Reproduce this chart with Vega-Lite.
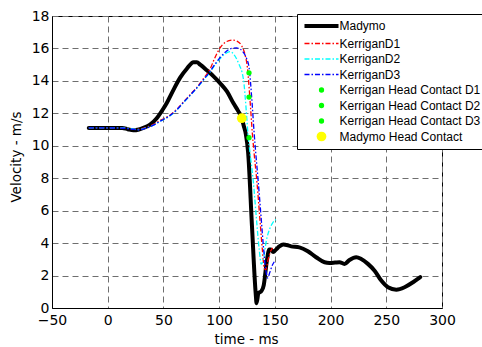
{
  "$schema": "https://vega.github.io/schema/vega-lite/v6.json",
  "width": 390,
  "height": 292,
  "autosize": {"type": "none"},
  "padding": {"left": 52, "top": 16, "right": 40, "bottom": 39},
  "background": "white",
  "config": {
    "view": {"stroke": "black", "strokeWidth": 1},
    "axis": {
      "grid": true,
      "gridDash": [6, 4],
      "gridColor": "#6e6e6e",
      "gridWidth": 1,
      "ticks": false,
      "domainColor": "black",
      "labelFont": "DejaVu Sans",
      "labelFontSize": 14,
      "labelColor": "black",
      "labelFlush": false,
      "labelOverlap": false,
      "titleFont": "DejaVu Sans",
      "titleFontSize": 13.5,
      "titleFontWeight": "normal",
      "titleColor": "black"
    }
  },
  "datasets": {
    "curves": [
      {"series": "Madymo", "t": -17, "v": 11.1},
      {"series": "Madymo", "t": 0, "v": 11.1},
      {"series": "Madymo", "t": 13, "v": 11.1},
      {"series": "Madymo", "t": 18, "v": 11.02},
      {"series": "Madymo", "t": 23, "v": 10.95},
      {"series": "Madymo", "t": 28, "v": 11.0},
      {"series": "Madymo", "t": 32, "v": 11.1},
      {"series": "Madymo", "t": 38, "v": 11.3},
      {"series": "Madymo", "t": 44, "v": 11.7},
      {"series": "Madymo", "t": 50, "v": 12.3},
      {"series": "Madymo", "t": 53, "v": 12.64},
      {"series": "Madymo", "t": 59, "v": 13.45},
      {"series": "Madymo", "t": 65, "v": 14.2},
      {"series": "Madymo", "t": 71, "v": 14.75},
      {"series": "Madymo", "t": 77, "v": 15.15},
      {"series": "Madymo", "t": 80, "v": 15.15},
      {"series": "Madymo", "t": 83, "v": 15.0},
      {"series": "Madymo", "t": 89, "v": 14.65},
      {"series": "Madymo", "t": 95, "v": 14.28},
      {"series": "Madymo", "t": 101, "v": 13.85},
      {"series": "Madymo", "t": 107, "v": 13.35},
      {"series": "Madymo", "t": 113, "v": 12.6},
      {"series": "Madymo", "t": 117, "v": 12.15},
      {"series": "Madymo", "t": 120.3, "v": 11.7},
      {"series": "Madymo", "t": 122, "v": 11.25},
      {"series": "Madymo", "t": 124, "v": 10.7},
      {"series": "Madymo", "t": 126, "v": 9.6},
      {"series": "Madymo", "t": 129.5, "v": 5.0},
      {"series": "Madymo", "t": 132.8, "v": 0.9},
      {"series": "Madymo", "t": 133.6, "v": 0.3},
      {"series": "Madymo", "t": 135.2, "v": 0.9},
      {"series": "Madymo", "t": 138, "v": 1.05},
      {"series": "Madymo", "t": 140, "v": 1.4},
      {"series": "Madymo", "t": 142.8, "v": 2.9},
      {"series": "Madymo", "t": 145, "v": 3.6},
      {"series": "Madymo", "t": 146.5, "v": 3.6},
      {"series": "Madymo", "t": 148.5, "v": 3.45},
      {"series": "Madymo", "t": 151, "v": 3.6},
      {"series": "Madymo", "t": 154, "v": 3.8},
      {"series": "Madymo", "t": 157.5, "v": 3.92},
      {"series": "Madymo", "t": 164.6, "v": 3.8},
      {"series": "Madymo", "t": 172, "v": 3.74},
      {"series": "Madymo", "t": 179.6, "v": 3.5},
      {"series": "Madymo", "t": 187, "v": 3.13},
      {"series": "Madymo", "t": 194.6, "v": 2.82},
      {"series": "Madymo", "t": 199, "v": 2.78},
      {"series": "Madymo", "t": 204, "v": 2.8},
      {"series": "Madymo", "t": 208, "v": 2.82},
      {"series": "Madymo", "t": 212.5, "v": 2.72},
      {"series": "Madymo", "t": 217, "v": 2.96},
      {"series": "Madymo", "t": 223, "v": 3.13},
      {"series": "Madymo", "t": 227.5, "v": 3.02},
      {"series": "Madymo", "t": 233.5, "v": 2.72},
      {"series": "Madymo", "t": 239.5, "v": 2.3},
      {"series": "Madymo", "t": 245.5, "v": 1.69},
      {"series": "Madymo", "t": 251.5, "v": 1.28},
      {"series": "Madymo", "t": 259, "v": 1.13},
      {"series": "Madymo", "t": 266.4, "v": 1.28},
      {"series": "Madymo", "t": 274, "v": 1.59},
      {"series": "Madymo", "t": 280.5, "v": 1.9},

      {"series": "KerriganD1", "t": -17, "v": 11.1},
      {"series": "KerriganD1", "t": 0, "v": 11.1},
      {"series": "KerriganD1", "t": 15, "v": 11.1},
      {"series": "KerriganD1", "t": 22, "v": 11.05},
      {"series": "KerriganD1", "t": 28, "v": 11.02},
      {"series": "KerriganD1", "t": 35, "v": 11.15},
      {"series": "KerriganD1", "t": 42, "v": 11.35},
      {"series": "KerriganD1", "t": 48, "v": 11.6},
      {"series": "KerriganD1", "t": 55, "v": 11.85},
      {"series": "KerriganD1", "t": 62, "v": 12.25},
      {"series": "KerriganD1", "t": 68, "v": 12.7},
      {"series": "KerriganD1", "t": 74, "v": 13.15},
      {"series": "KerriganD1", "t": 80, "v": 13.6},
      {"series": "KerriganD1", "t": 86, "v": 14.15},
      {"series": "KerriganD1", "t": 92, "v": 14.75},
      {"series": "KerriganD1", "t": 96, "v": 15.4},
      {"series": "KerriganD1", "t": 101, "v": 16.05},
      {"series": "KerriganD1", "t": 106, "v": 16.4},
      {"series": "KerriganD1", "t": 112, "v": 16.52},
      {"series": "KerriganD1", "t": 116, "v": 16.45},
      {"series": "KerriganD1", "t": 120.3, "v": 16.15},
      {"series": "KerriganD1", "t": 123.3, "v": 15.6},
      {"series": "KerriganD1", "t": 125.4, "v": 14.8},
      {"series": "KerriganD1", "t": 127.8, "v": 12.73},
      {"series": "KerriganD1", "t": 129.9, "v": 10.68},
      {"series": "KerriganD1", "t": 131.3, "v": 9.6},
      {"series": "KerriganD1", "t": 134, "v": 7.7},
      {"series": "KerriganD1", "t": 136.4, "v": 5.64},
      {"series": "KerriganD1", "t": 138.8, "v": 3.58},
      {"series": "KerriganD1", "t": 140.5, "v": 2.45},
      {"series": "KerriganD1", "t": 141.8, "v": 2.35},
      {"series": "KerriganD1", "t": 144, "v": 3.0},
      {"series": "KerriganD1", "t": 146.5, "v": 3.55},
      {"series": "KerriganD1", "t": 148, "v": 3.7},

      {"series": "KerriganD2", "t": -17, "v": 11.1},
      {"series": "KerriganD2", "t": 0, "v": 11.1},
      {"series": "KerriganD2", "t": 15, "v": 11.1},
      {"series": "KerriganD2", "t": 22, "v": 11.05},
      {"series": "KerriganD2", "t": 28, "v": 11.0},
      {"series": "KerriganD2", "t": 35, "v": 11.12},
      {"series": "KerriganD2", "t": 42, "v": 11.3},
      {"series": "KerriganD2", "t": 48, "v": 11.55},
      {"series": "KerriganD2", "t": 55, "v": 11.8},
      {"series": "KerriganD2", "t": 62, "v": 12.2},
      {"series": "KerriganD2", "t": 68, "v": 12.65},
      {"series": "KerriganD2", "t": 74, "v": 13.1},
      {"series": "KerriganD2", "t": 80, "v": 13.55},
      {"series": "KerriganD2", "t": 86, "v": 14.05},
      {"series": "KerriganD2", "t": 92, "v": 14.55},
      {"series": "KerriganD2", "t": 96, "v": 14.95},
      {"series": "KerriganD2", "t": 100, "v": 15.3},
      {"series": "KerriganD2", "t": 105, "v": 15.65},
      {"series": "KerriganD2", "t": 110, "v": 15.8},
      {"series": "KerriganD2", "t": 113, "v": 15.65},
      {"series": "KerriganD2", "t": 117.3, "v": 15.1},
      {"series": "KerriganD2", "t": 121.8, "v": 14.1},
      {"series": "KerriganD2", "t": 124.3, "v": 12.2},
      {"series": "KerriganD2", "t": 125.9, "v": 10.7},
      {"series": "KerriganD2", "t": 128, "v": 9.4},
      {"series": "KerriganD2", "t": 130.8, "v": 7.7},
      {"series": "KerriganD2", "t": 133.3, "v": 5.64},
      {"series": "KerriganD2", "t": 136, "v": 3.58},
      {"series": "KerriganD2", "t": 137.8, "v": 2.7},
      {"series": "KerriganD2", "t": 139.5, "v": 2.95},
      {"series": "KerriganD2", "t": 142.5, "v": 4.2},
      {"series": "KerriganD2", "t": 145.5, "v": 4.9},
      {"series": "KerriganD2", "t": 148.5, "v": 5.3},
      {"series": "KerriganD2", "t": 151, "v": 5.45},

      {"series": "KerriganD3", "t": -17, "v": 11.1},
      {"series": "KerriganD3", "t": 0, "v": 11.1},
      {"series": "KerriganD3", "t": 15, "v": 11.08},
      {"series": "KerriganD3", "t": 22, "v": 11.02},
      {"series": "KerriganD3", "t": 28, "v": 10.98},
      {"series": "KerriganD3", "t": 35, "v": 11.1},
      {"series": "KerriganD3", "t": 42, "v": 11.3},
      {"series": "KerriganD3", "t": 48, "v": 11.55},
      {"series": "KerriganD3", "t": 55, "v": 11.82},
      {"series": "KerriganD3", "t": 62, "v": 12.22},
      {"series": "KerriganD3", "t": 68, "v": 12.68},
      {"series": "KerriganD3", "t": 74, "v": 13.12},
      {"series": "KerriganD3", "t": 80, "v": 13.57},
      {"series": "KerriganD3", "t": 86, "v": 14.08},
      {"series": "KerriganD3", "t": 92, "v": 14.6},
      {"series": "KerriganD3", "t": 97, "v": 15.1},
      {"series": "KerriganD3", "t": 101, "v": 15.45},
      {"series": "KerriganD3", "t": 106, "v": 15.8},
      {"series": "KerriganD3", "t": 111, "v": 16.0},
      {"series": "KerriganD3", "t": 115.5, "v": 16.03},
      {"series": "KerriganD3", "t": 119, "v": 15.95},
      {"series": "KerriganD3", "t": 121.8, "v": 15.75},
      {"series": "KerriganD3", "t": 124.8, "v": 15.35},
      {"series": "KerriganD3", "t": 126.9, "v": 14.8},
      {"series": "KerriganD3", "t": 129.3, "v": 12.9},
      {"series": "KerriganD3", "t": 131.4, "v": 10.8},
      {"series": "KerriganD3", "t": 132.8, "v": 9.6},
      {"series": "KerriganD3", "t": 135.2, "v": 7.7},
      {"series": "KerriganD3", "t": 137.6, "v": 5.64},
      {"series": "KerriganD3", "t": 140, "v": 3.58},
      {"series": "KerriganD3", "t": 142, "v": 2.3},
      {"series": "KerriganD3", "t": 143.5, "v": 1.85},
      {"series": "KerriganD3", "t": 145.5, "v": 2.2},
      {"series": "KerriganD3", "t": 147.5, "v": 2.6},
      {"series": "KerriganD3", "t": 149.5, "v": 2.85}
    ],
    "contacts": [
      {"series": "Kerrigan Head Contact D1", "t": 126.8, "v": 14.5},
      {"series": "Kerrigan Head Contact D2", "t": 126.8, "v": 13.0},
      {"series": "Kerrigan Head Contact D3", "t": 126.8, "v": 10.5},
      {"series": "Madymo Head Contact", "t": 120.3, "v": 11.7}
    ]
  },
  "encoding": {
    "x": {
      "field": "t",
      "type": "quantitative",
      "scale": {"domain": [-50, 300], "nice": false, "zero": false},
      "axis": {
        "values": [-50, 0, 50, 100, 150, 200, 250, 300],
        "title": "time - ms",
        "labelPadding": 5,
        "titleX": 194,
        "titleY": 35,
        "titleAlign": "center",
        "titleBaseline": "alphabetic"
      }
    },
    "y": {
      "field": "v",
      "type": "quantitative",
      "scale": {"domain": [0, 18], "nice": false},
      "axis": {
        "values": [0, 2, 4, 6, 8, 10, 12, 14, 16, 18],
        "title": "Velocity - m/s",
        "labelPadding": 3,
        "titleX": -31.5,
        "titleY": 140.5,
        "titleAngle": -90,
        "titleAlign": "center",
        "titleBaseline": "alphabetic"
      }
    }
  },
  "layer": [
    {
      "data": {"name": "curves"},
      "transform": [{"filter": "datum.series === 'Madymo'"}],
      "mark": {"type": "line", "strokeWidth": 4, "interpolate": "monotone", "strokeJoin": "round", "strokeCap": "round"},
      "encoding": {
        "color": {
          "field": "series",
          "type": "nominal",
          "scale": {
            "domain": ["Madymo", "KerriganD1", "KerriganD2", "KerriganD3", "Kerrigan Head Contact D1", "Kerrigan Head Contact D2", "Kerrigan Head Contact D3", "Madymo Head Contact"],
            "range": ["#000000", "#ff0000", "#00ffff", "#0000ff", "#00ff00", "#00ff00", "#00ff00", "#ffff00"]
          },
          "legend": {
            "orient": "none",
            "legendX": 245,
            "legendY": -2,
            "title": null,
            "padding": 6,
            "strokeColor": "black",
            "fillColor": "white",
            "cornerRadius": 0,
            "rowPadding": 3.5,
            "labelFont": "Liberation Sans",
            "labelFontSize": 12,
            "labelColor": "black",
            "labelLimit": 300,
            "labelOffset": 12,
            "symbolOffset": 12.5,
            "symbolSize": 100,
            "encode": {
              "symbols": {
                "update": {
                  "shape": {"signal": "indexof(['Madymo','KerriganD1','KerriganD2','KerriganD3'], datum.value) >= 0 ? 'M-6.43,0H6.43' : 'circle'"},
                  "size": {"signal": "datum.value === 'Madymo Head Contact' ? 95 : 28"},
                  "fill": {"signal": "indexof(['Madymo','KerriganD1','KerriganD2','KerriganD3'], datum.value) >= 0 ? 'transparent' : scale('color', datum.value)"},
                  "stroke": {"signal": "scale('color', datum.value)"},
                  "strokeWidth": {"signal": "datum.value === 'Madymo' ? 4 : (indexof(['KerriganD1','KerriganD2','KerriganD3'], datum.value) >= 0 ? 1.3 : 0)"},
                  "strokeDash": {"signal": "indexof(['KerriganD1','KerriganD2','KerriganD3'], datum.value) >= 0 ? [5,2,1.5,2] : [1,0]"},
                  "opacity": {"value": 1}
                }
              }
            }
          }
        }
      }
    },
    {
      "data": {"name": "curves"},
      "transform": [{"filter": "datum.series !== 'Madymo'"}],
      "mark": {"type": "line", "strokeWidth": 1.3, "strokeDash": [5, 2, 1.5, 2], "interpolate": "monotone"},
      "encoding": {
        "color": {"field": "series", "type": "nominal", "legend": null}
      }
    },
    {
      "data": {"name": "contacts"},
      "mark": {"type": "point", "filled": true, "opacity": 1, "strokeWidth": 0},
      "encoding": {
        "color": {"field": "series", "type": "nominal", "legend": null},
        "size": {
          "field": "series",
          "type": "nominal",
          "scale": {
            "type": "ordinal",
            "domain": ["Kerrigan Head Contact D1", "Kerrigan Head Contact D2", "Kerrigan Head Contact D3", "Madymo Head Contact"],
            "range": [28, 28, 28, 95]
          },
          "legend": null
        }
      }
    }
  ]
}
